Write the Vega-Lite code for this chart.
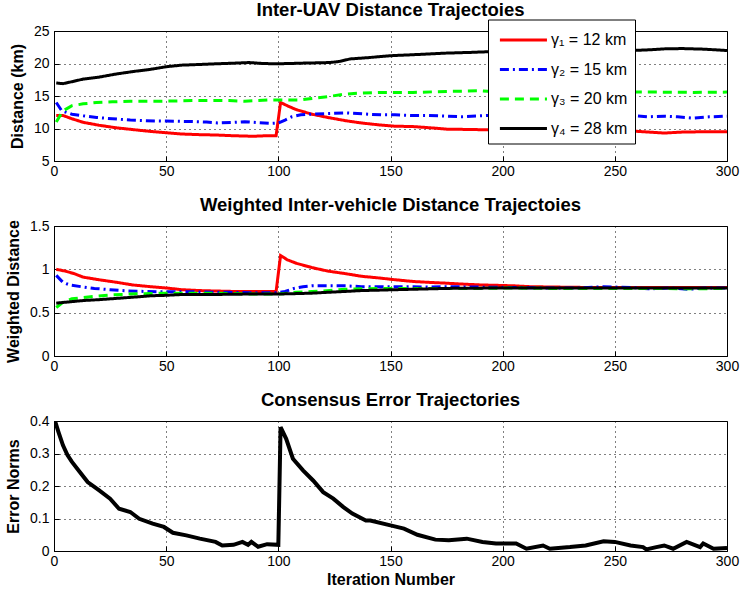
{
  "$schema": "https://vega.github.io/schema/vega-lite/v6.json",
  "background": "white",
  "padding": {"left": 5, "top": 0, "right": 10, "bottom": 3},
  "spacing": 16,
  "config": {
    "font": "Liberation Sans",
    "view": {"stroke": "black", "strokeWidth": 1},
    "axis": {
      "labelFont": "Liberation Sans", "labelFontSize": 14, "labelColor": "black",
      "titleFont": "Liberation Sans", "titleFontSize": 16, "titleFontWeight": "bold", "titleColor": "black",
      "gridColor": "black", "gridDash": [1, 4], "gridOpacity": 1, "gridWidth": 1,
      "domainColor": "black", "tickColor": "black", "ticks": true, "tickSize": -5, "tickWidth": 1,
      "labelPadding": 10, "labelFlush": false, "labelOverlap": false, "titlePadding": 8
    },
    "axisX": {"labelPadding": 8},
    "title": {"font": "Liberation Sans", "fontSize": 18.5, "fontWeight": "bold", "color": "black", "offset": 5}
  },
  "datasets": {
    "dist": [
      {"it":1,"s":"γ₁ = 12 km","v":12.0},{"it":4,"s":"γ₁ = 12 km","v":12.0},{"it":8,"s":"γ₁ = 12 km","v":11.5},{"it":13,"s":"γ₁ = 12 km","v":10.95},{"it":20,"s":"γ₁ = 12 km","v":10.5},{"it":28,"s":"γ₁ = 12 km","v":10.1},{"it":36,"s":"γ₁ = 12 km","v":9.8},{"it":43,"s":"γ₁ = 12 km","v":9.55},{"it":50,"s":"γ₁ = 12 km","v":9.35},{"it":57,"s":"γ₁ = 12 km","v":9.15},{"it":65,"s":"γ₁ = 12 km","v":9.05},{"it":72,"s":"γ₁ = 12 km","v":9.0},{"it":79,"s":"γ₁ = 12 km","v":8.9},{"it":89,"s":"γ₁ = 12 km","v":8.8},{"it":95,"s":"γ₁ = 12 km","v":8.9},{"it":99,"s":"γ₁ = 12 km","v":8.9},{"it":101,"s":"γ₁ = 12 km","v":14.0},{"it":104,"s":"γ₁ = 12 km","v":13.5},{"it":108,"s":"γ₁ = 12 km","v":12.9},{"it":115,"s":"γ₁ = 12 km","v":12.2},{"it":122,"s":"γ₁ = 12 km","v":11.7},{"it":130,"s":"γ₁ = 12 km","v":11.2},{"it":137,"s":"γ₁ = 12 km","v":10.85},{"it":145,"s":"γ₁ = 12 km","v":10.55},{"it":152,"s":"γ₁ = 12 km","v":10.35},{"it":160,"s":"γ₁ = 12 km","v":10.3},{"it":168,"s":"γ₁ = 12 km","v":10.1},{"it":175,"s":"γ₁ = 12 km","v":9.9},{"it":185,"s":"γ₁ = 12 km","v":9.85},{"it":193,"s":"γ₁ = 12 km","v":9.8},{"it":200,"s":"γ₁ = 12 km","v":9.8},{"it":215,"s":"γ₁ = 12 km","v":9.75},{"it":230,"s":"γ₁ = 12 km","v":9.7},{"it":245,"s":"γ₁ = 12 km","v":9.65},{"it":258,"s":"γ₁ = 12 km","v":9.6},{"it":265,"s":"γ₁ = 12 km","v":9.45},{"it":272,"s":"γ₁ = 12 km","v":9.3},{"it":280,"s":"γ₁ = 12 km","v":9.45},{"it":290,"s":"γ₁ = 12 km","v":9.5},{"it":300,"s":"γ₁ = 12 km","v":9.5},
      {"it":1,"s":"γ₂ = 15 km","v":14.0},{"it":3.5,"s":"γ₂ = 15 km","v":12.7},{"it":8,"s":"γ₂ = 15 km","v":12.2},{"it":13,"s":"γ₂ = 15 km","v":11.95},{"it":19,"s":"γ₂ = 15 km","v":11.7},{"it":26,"s":"γ₂ = 15 km","v":11.5},{"it":34,"s":"γ₂ = 15 km","v":11.3},{"it":41,"s":"γ₂ = 15 km","v":11.2},{"it":48,"s":"γ₂ = 15 km","v":11.15},{"it":56,"s":"γ₂ = 15 km","v":11.1},{"it":63,"s":"γ₂ = 15 km","v":11.05},{"it":68,"s":"γ₂ = 15 km","v":11.0},{"it":73,"s":"γ₂ = 15 km","v":10.85},{"it":80,"s":"γ₂ = 15 km","v":10.95},{"it":85,"s":"γ₂ = 15 km","v":11.05},{"it":91,"s":"γ₂ = 15 km","v":10.9},{"it":97,"s":"γ₂ = 15 km","v":10.8},{"it":100,"s":"γ₂ = 15 km","v":10.85},{"it":103,"s":"γ₂ = 15 km","v":11.3},{"it":106,"s":"γ₂ = 15 km","v":11.8},{"it":110,"s":"γ₂ = 15 km","v":12.1},{"it":115,"s":"γ₂ = 15 km","v":12.2},{"it":122,"s":"γ₂ = 15 km","v":12.3},{"it":130,"s":"γ₂ = 15 km","v":12.4},{"it":140,"s":"γ₂ = 15 km","v":12.2},{"it":146,"s":"γ₂ = 15 km","v":12.1},{"it":152,"s":"γ₂ = 15 km","v":12.1},{"it":160,"s":"γ₂ = 15 km","v":12.0},{"it":167,"s":"γ₂ = 15 km","v":12.0},{"it":175,"s":"γ₂ = 15 km","v":11.9},{"it":182,"s":"γ₂ = 15 km","v":11.8},{"it":193,"s":"γ₂ = 15 km","v":12.0},{"it":200,"s":"γ₂ = 15 km","v":12.0},{"it":215,"s":"γ₂ = 15 km","v":11.9},{"it":230,"s":"γ₂ = 15 km","v":12.0},{"it":245,"s":"γ₂ = 15 km","v":11.9},{"it":258,"s":"γ₂ = 15 km","v":12.0},{"it":265,"s":"γ₂ = 15 km","v":11.8},{"it":272,"s":"γ₂ = 15 km","v":11.9},{"it":278,"s":"γ₂ = 15 km","v":11.8},{"it":285,"s":"γ₂ = 15 km","v":11.6},{"it":292,"s":"γ₂ = 15 km","v":11.8},{"it":300,"s":"γ₂ = 15 km","v":11.9},
      {"it":1,"s":"γ₃ = 20 km","v":11.0},{"it":4,"s":"γ₃ = 20 km","v":12.7},{"it":8,"s":"γ₃ = 20 km","v":13.5},{"it":13,"s":"γ₃ = 20 km","v":13.8},{"it":19,"s":"γ₃ = 20 km","v":14.0},{"it":26,"s":"γ₃ = 20 km","v":14.1},{"it":34,"s":"γ₃ = 20 km","v":14.2},{"it":48,"s":"γ₃ = 20 km","v":14.2},{"it":56,"s":"γ₃ = 20 km","v":14.25},{"it":63,"s":"γ₃ = 20 km","v":14.3},{"it":72,"s":"γ₃ = 20 km","v":14.3},{"it":78,"s":"γ₃ = 20 km","v":14.3},{"it":85,"s":"γ₃ = 20 km","v":14.2},{"it":91,"s":"γ₃ = 20 km","v":14.3},{"it":97,"s":"γ₃ = 20 km","v":14.4},{"it":103,"s":"γ₃ = 20 km","v":14.4},{"it":110,"s":"γ₃ = 20 km","v":14.4},{"it":115,"s":"γ₃ = 20 km","v":14.6},{"it":122,"s":"γ₃ = 20 km","v":14.9},{"it":130,"s":"γ₃ = 20 km","v":15.3},{"it":137,"s":"γ₃ = 20 km","v":15.45},{"it":145,"s":"γ₃ = 20 km","v":15.55},{"it":160,"s":"γ₃ = 20 km","v":15.55},{"it":175,"s":"γ₃ = 20 km","v":15.7},{"it":190,"s":"γ₃ = 20 km","v":15.8},{"it":200,"s":"γ₃ = 20 km","v":15.6},{"it":215,"s":"γ₃ = 20 km","v":15.5},{"it":230,"s":"γ₃ = 20 km","v":15.55},{"it":245,"s":"γ₃ = 20 km","v":15.5},{"it":258,"s":"γ₃ = 20 km","v":15.6},{"it":270,"s":"γ₃ = 20 km","v":15.6},{"it":285,"s":"γ₃ = 20 km","v":15.55},{"it":300,"s":"γ₃ = 20 km","v":15.6},
      {"it":1,"s":"γ₄ = 28 km","v":17.0},{"it":4,"s":"γ₄ = 28 km","v":16.9},{"it":8,"s":"γ₄ = 28 km","v":17.2},{"it":13,"s":"γ₄ = 28 km","v":17.6},{"it":20,"s":"γ₄ = 28 km","v":17.9},{"it":28,"s":"γ₄ = 28 km","v":18.4},{"it":36,"s":"γ₄ = 28 km","v":18.8},{"it":43,"s":"γ₄ = 28 km","v":19.1},{"it":50,"s":"γ₄ = 28 km","v":19.5},{"it":57,"s":"γ₄ = 28 km","v":19.75},{"it":65,"s":"γ₄ = 28 km","v":19.85},{"it":72,"s":"γ₄ = 28 km","v":19.95},{"it":80,"s":"γ₄ = 28 km","v":20.05},{"it":87,"s":"γ₄ = 28 km","v":20.15},{"it":93,"s":"γ₄ = 28 km","v":20.0},{"it":99,"s":"γ₄ = 28 km","v":19.95},{"it":105,"s":"γ₄ = 28 km","v":20.0},{"it":110,"s":"γ₄ = 28 km","v":20.05},{"it":117,"s":"γ₄ = 28 km","v":20.1},{"it":123,"s":"γ₄ = 28 km","v":20.15},{"it":127,"s":"γ₄ = 28 km","v":20.3},{"it":132,"s":"γ₄ = 28 km","v":20.7},{"it":140,"s":"γ₄ = 28 km","v":20.9},{"it":150,"s":"γ₄ = 28 km","v":21.2},{"it":160,"s":"γ₄ = 28 km","v":21.35},{"it":175,"s":"γ₄ = 28 km","v":21.6},{"it":185,"s":"γ₄ = 28 km","v":21.7},{"it":193,"s":"γ₄ = 28 km","v":21.8},{"it":200,"s":"γ₄ = 28 km","v":21.8},{"it":210,"s":"γ₄ = 28 km","v":21.85},{"it":220,"s":"γ₄ = 28 km","v":21.85},{"it":235,"s":"γ₄ = 28 km","v":21.9},{"it":250,"s":"γ₄ = 28 km","v":21.9},{"it":258,"s":"γ₄ = 28 km","v":22.0},{"it":265,"s":"γ₄ = 28 km","v":22.1},{"it":272,"s":"γ₄ = 28 km","v":22.25},{"it":280,"s":"γ₄ = 28 km","v":22.3},{"it":290,"s":"γ₄ = 28 km","v":22.2},{"it":300,"s":"γ₄ = 28 km","v":22.0}
    ],
    "wdist": [
      {"it":1,"s":"γ₁ = 12 km","v":1.0},{"it":5,"s":"γ₁ = 12 km","v":0.98},{"it":9,"s":"γ₁ = 12 km","v":0.95},{"it":13,"s":"γ₁ = 12 km","v":0.91},{"it":20,"s":"γ₁ = 12 km","v":0.88},{"it":28,"s":"γ₁ = 12 km","v":0.85},{"it":35,"s":"γ₁ = 12 km","v":0.82},{"it":43,"s":"γ₁ = 12 km","v":0.8},{"it":50,"s":"γ₁ = 12 km","v":0.785},{"it":57,"s":"γ₁ = 12 km","v":0.765},{"it":65,"s":"γ₁ = 12 km","v":0.755},{"it":72,"s":"γ₁ = 12 km","v":0.75},{"it":80,"s":"γ₁ = 12 km","v":0.745},{"it":87,"s":"γ₁ = 12 km","v":0.745},{"it":95,"s":"γ₁ = 12 km","v":0.745},{"it":99,"s":"γ₁ = 12 km","v":0.745},{"it":101,"s":"γ₁ = 12 km","v":1.16},{"it":104,"s":"γ₁ = 12 km","v":1.11},{"it":108,"s":"γ₁ = 12 km","v":1.07},{"it":115,"s":"γ₁ = 12 km","v":1.02},{"it":122,"s":"γ₁ = 12 km","v":0.98},{"it":130,"s":"γ₁ = 12 km","v":0.95},{"it":137,"s":"γ₁ = 12 km","v":0.92},{"it":145,"s":"γ₁ = 12 km","v":0.9},{"it":152,"s":"γ₁ = 12 km","v":0.88},{"it":160,"s":"γ₁ = 12 km","v":0.86},{"it":167,"s":"γ₁ = 12 km","v":0.85},{"it":175,"s":"γ₁ = 12 km","v":0.84},{"it":182,"s":"γ₁ = 12 km","v":0.83},{"it":190,"s":"γ₁ = 12 km","v":0.82},{"it":198,"s":"γ₁ = 12 km","v":0.815},{"it":205,"s":"γ₁ = 12 km","v":0.81},{"it":212,"s":"γ₁ = 12 km","v":0.8},{"it":225,"s":"γ₁ = 12 km","v":0.795},{"it":240,"s":"γ₁ = 12 km","v":0.79},{"it":255,"s":"γ₁ = 12 km","v":0.79},{"it":270,"s":"γ₁ = 12 km","v":0.79},{"it":285,"s":"γ₁ = 12 km","v":0.79},{"it":300,"s":"γ₁ = 12 km","v":0.79},
      {"it":1,"s":"γ₂ = 15 km","v":0.93},{"it":4,"s":"γ₂ = 15 km","v":0.85},{"it":7,"s":"γ₂ = 15 km","v":0.82},{"it":12,"s":"γ₂ = 15 km","v":0.8},{"it":18,"s":"γ₂ = 15 km","v":0.78},{"it":25,"s":"γ₂ = 15 km","v":0.765},{"it":33,"s":"γ₂ = 15 km","v":0.75},{"it":40,"s":"γ₂ = 15 km","v":0.745},{"it":48,"s":"γ₂ = 15 km","v":0.74},{"it":56,"s":"γ₂ = 15 km","v":0.74},{"it":63,"s":"γ₂ = 15 km","v":0.74},{"it":70,"s":"γ₂ = 15 km","v":0.735},{"it":78,"s":"γ₂ = 15 km","v":0.735},{"it":87,"s":"γ₂ = 15 km","v":0.73},{"it":97,"s":"γ₂ = 15 km","v":0.73},{"it":100,"s":"γ₂ = 15 km","v":0.73},{"it":103,"s":"γ₂ = 15 km","v":0.745},{"it":107,"s":"γ₂ = 15 km","v":0.78},{"it":111,"s":"γ₂ = 15 km","v":0.8},{"it":115,"s":"γ₂ = 15 km","v":0.81},{"it":122,"s":"γ₂ = 15 km","v":0.81},{"it":130,"s":"γ₂ = 15 km","v":0.81},{"it":137,"s":"γ₂ = 15 km","v":0.8},{"it":145,"s":"γ₂ = 15 km","v":0.8},{"it":152,"s":"γ₂ = 15 km","v":0.8},{"it":160,"s":"γ₂ = 15 km","v":0.8},{"it":167,"s":"γ₂ = 15 km","v":0.795},{"it":175,"s":"γ₂ = 15 km","v":0.8},{"it":190,"s":"γ₂ = 15 km","v":0.795},{"it":205,"s":"γ₂ = 15 km","v":0.79},{"it":220,"s":"γ₂ = 15 km","v":0.785},{"it":235,"s":"γ₂ = 15 km","v":0.785},{"it":245,"s":"γ₂ = 15 km","v":0.8},{"it":250,"s":"γ₂ = 15 km","v":0.795},{"it":258,"s":"γ₂ = 15 km","v":0.79},{"it":265,"s":"γ₂ = 15 km","v":0.775},{"it":275,"s":"γ₂ = 15 km","v":0.785},{"it":283,"s":"γ₂ = 15 km","v":0.77},{"it":290,"s":"γ₂ = 15 km","v":0.785},{"it":300,"s":"γ₂ = 15 km","v":0.785},
      {"it":1,"s":"γ₃ = 20 km","v":0.56},{"it":4,"s":"γ₃ = 20 km","v":0.62},{"it":8,"s":"γ₃ = 20 km","v":0.66},{"it":13,"s":"γ₃ = 20 km","v":0.675},{"it":19,"s":"γ₃ = 20 km","v":0.69},{"it":26,"s":"γ₃ = 20 km","v":0.705},{"it":34,"s":"γ₃ = 20 km","v":0.715},{"it":48,"s":"γ₃ = 20 km","v":0.725},{"it":60,"s":"γ₃ = 20 km","v":0.725},{"it":72,"s":"γ₃ = 20 km","v":0.725},{"it":80,"s":"γ₃ = 20 km","v":0.72},{"it":87,"s":"γ₃ = 20 km","v":0.715},{"it":95,"s":"γ₃ = 20 km","v":0.715},{"it":100,"s":"γ₃ = 20 km","v":0.715},{"it":108,"s":"γ₃ = 20 km","v":0.735},{"it":115,"s":"γ₃ = 20 km","v":0.745},{"it":120,"s":"γ₃ = 20 km","v":0.75},{"it":130,"s":"γ₃ = 20 km","v":0.77},{"it":137,"s":"γ₃ = 20 km","v":0.775},{"it":145,"s":"γ₃ = 20 km","v":0.78},{"it":160,"s":"γ₃ = 20 km","v":0.78},{"it":175,"s":"γ₃ = 20 km","v":0.78},{"it":190,"s":"γ₃ = 20 km","v":0.78},{"it":205,"s":"γ₃ = 20 km","v":0.785},{"it":220,"s":"γ₃ = 20 km","v":0.78},{"it":240,"s":"γ₃ = 20 km","v":0.78},{"it":255,"s":"γ₃ = 20 km","v":0.78},{"it":270,"s":"γ₃ = 20 km","v":0.78},{"it":285,"s":"γ₃ = 20 km","v":0.775},{"it":300,"s":"γ₃ = 20 km","v":0.78},
      {"it":1,"s":"γ₄ = 28 km","v":0.61},{"it":7,"s":"γ₄ = 28 km","v":0.625},{"it":13,"s":"γ₄ = 28 km","v":0.64},{"it":20,"s":"γ₄ = 28 km","v":0.65},{"it":28,"s":"γ₄ = 28 km","v":0.665},{"it":36,"s":"γ₄ = 28 km","v":0.68},{"it":43,"s":"γ₄ = 28 km","v":0.695},{"it":50,"s":"γ₄ = 28 km","v":0.7},{"it":57,"s":"γ₄ = 28 km","v":0.71},{"it":72,"s":"γ₄ = 28 km","v":0.71},{"it":87,"s":"γ₄ = 28 km","v":0.715},{"it":100,"s":"γ₄ = 28 km","v":0.715},{"it":108,"s":"γ₄ = 28 km","v":0.72},{"it":115,"s":"γ₄ = 28 km","v":0.725},{"it":122,"s":"γ₄ = 28 km","v":0.735},{"it":130,"s":"γ₄ = 28 km","v":0.745},{"it":137,"s":"γ₄ = 28 km","v":0.755},{"it":145,"s":"γ₄ = 28 km","v":0.76},{"it":152,"s":"γ₄ = 28 km","v":0.765},{"it":160,"s":"γ₄ = 28 km","v":0.77},{"it":175,"s":"γ₄ = 28 km","v":0.78},{"it":190,"s":"γ₄ = 28 km","v":0.783},{"it":205,"s":"γ₄ = 28 km","v":0.785},{"it":230,"s":"γ₄ = 28 km","v":0.785},{"it":260,"s":"γ₄ = 28 km","v":0.785},{"it":300,"s":"γ₄ = 28 km","v":0.785}
    ],
    "err": [
      {"it":0.5,"v":0.399},{"it":2,"v":0.366},{"it":4,"v":0.325},{"it":6,"v":0.295},{"it":8,"v":0.274},{"it":11.5,"v":0.243},{"it":15,"v":0.212},{"it":20,"v":0.187},{"it":25,"v":0.161},{"it":29,"v":0.13},{"it":34,"v":0.12},{"it":38,"v":0.099},{"it":44,"v":0.084},{"it":49,"v":0.074},{"it":53,"v":0.056},{"it":59,"v":0.048},{"it":65,"v":0.038},{"it":72,"v":0.028},{"it":75,"v":0.017},{"it":80,"v":0.019},{"it":84,"v":0.028},{"it":86.5,"v":0.019},{"it":88,"v":0.028},{"it":91,"v":0.013},{"it":95,"v":0.021},{"it":100,"v":0.019},{"it":101,"v":0.381},{"it":103.5,"v":0.345},{"it":106.5,"v":0.284},{"it":111,"v":0.248},{"it":115.5,"v":0.217},{"it":120,"v":0.181},{"it":124.5,"v":0.161},{"it":129,"v":0.135},{"it":133,"v":0.115},{"it":139,"v":0.094},{"it":141,"v":0.094},{"it":150,"v":0.079},{"it":156,"v":0.069},{"it":162,"v":0.05},{"it":170,"v":0.035},{"it":176,"v":0.033},{"it":184,"v":0.038},{"it":191,"v":0.028},{"it":197,"v":0.023},{"it":206,"v":0.023},{"it":210.6,"v":0.007},{"it":218,"v":0.017},{"it":221,"v":0.007},{"it":230,"v":0.012},{"it":237,"v":0.017},{"it":245,"v":0.03},{"it":250,"v":0.028},{"it":257,"v":0.017},{"it":262.6,"v":0.012},{"it":264,"v":0.005},{"it":268.5,"v":0.012},{"it":272,"v":0.017},{"it":276,"v":0.007},{"it":282,"v":0.028},{"it":288,"v":0.012},{"it":289.4,"v":0.023},{"it":294,"v":0.007},{"it":300,"v":0.009}
    ]
  },
  "vconcat": [
    {
      "title": "Inter-UAV Distance Trajectoies",
      "width": 673, "height": 130,
      "data": {"name": "dist"},
      "mark": {"type": "line", "strokeWidth": 3, "clip": true},
      "encoding": {
        "x": {"field": "it", "type": "quantitative", "scale": {"domain": [0, 300], "nice": false}, "axis": {"values": [0, 50, 100, 150, 200, 250, 300], "title": null}},
        "y": {"field": "v", "type": "quantitative", "scale": {"domain": [5, 25], "nice": false}, "axis": {"values": [5, 10, 15, 20, 25], "title": "Distance (km)"}},
        "color": {
          "field": "s", "type": "nominal",
          "scale": {"domain": ["γ₁ = 12 km", "γ₂ = 15 km", "γ₃ = 20 km", "γ₄ = 28 km"], "range": ["#ff0000", "#0000ff", "#00ff00", "#000000"]},
          "legend": {"title": null, "orient": "none", "legendX": 434, "legendY": -11.5, "direction": "vertical", "symbolType": "M-0.74,0H3.31", "symbolSize": 540, "symbolStrokeWidth": 3, "labelFontSize": 16, "labelFont": "Liberation Sans", "labelColor": "black", "labelOffset": 29, "rowPadding": 7.5, "padding": 7, "strokeColor": "black", "fillColor": "white"}
        },
        "strokeDash": {
          "field": "s", "type": "nominal",
          "scale": {"domain": ["γ₁ = 12 km", "γ₂ = 15 km", "γ₃ = 20 km", "γ₄ = 28 km"], "range": [[1, 0], [9, 4, 2, 4], [9, 6], [1, 0]]},
          "legend": {"title": null, "orient": "none", "legendX": 434, "legendY": -11.5, "direction": "vertical", "symbolType": "M-0.74,0H3.31", "symbolSize": 540, "symbolStrokeWidth": 3, "labelFontSize": 16, "labelFont": "Liberation Sans", "labelColor": "black", "labelOffset": 29, "rowPadding": 7.5, "padding": 7, "strokeColor": "black", "fillColor": "white"}
        }
      }
    },
    {
      "title": "Weighted Inter-vehicle Distance Trajectoies",
      "width": 673, "height": 130,
      "data": {"name": "wdist"},
      "mark": {"type": "line", "strokeWidth": 3, "clip": true},
      "encoding": {
        "x": {"field": "it", "type": "quantitative", "scale": {"domain": [0, 300], "nice": false}, "axis": {"values": [0, 50, 100, 150, 200, 250, 300], "title": null}},
        "y": {"field": "v", "type": "quantitative", "scale": {"domain": [0, 1.5], "nice": false}, "axis": {"values": [0, 0.5, 1, 1.5], "format": "~g", "title": "Weighted Distance"}},
        "color": {"field": "s", "type": "nominal", "scale": {"domain": ["γ₁ = 12 km", "γ₂ = 15 km", "γ₃ = 20 km", "γ₄ = 28 km"], "range": ["#ff0000", "#0000ff", "#00ff00", "#000000"]}, "legend": null},
        "strokeDash": {"field": "s", "type": "nominal", "scale": {"domain": ["γ₁ = 12 km", "γ₂ = 15 km", "γ₃ = 20 km", "γ₄ = 28 km"], "range": [[1, 0], [9, 4, 2, 4], [9, 6], [1, 0]]}, "legend": null}
      }
    },
    {
      "title": "Consensus Error Trajectories",
      "width": 673, "height": 130,
      "data": {"name": "err"},
      "mark": {"type": "line", "strokeWidth": 4, "color": "black", "clip": true},
      "encoding": {
        "x": {"field": "it", "type": "quantitative", "scale": {"domain": [0, 300], "nice": false}, "axis": {"values": [0, 50, 100, 150, 200, 250, 300], "title": "Iteration Number", "titlePadding": 3}},
        "y": {"field": "v", "type": "quantitative", "scale": {"domain": [0, 0.4], "nice": false}, "axis": {"values": [0, 0.1, 0.2, 0.3, 0.4], "format": "~g", "title": "Error Norms"}}
      }
    }
  ]
}
